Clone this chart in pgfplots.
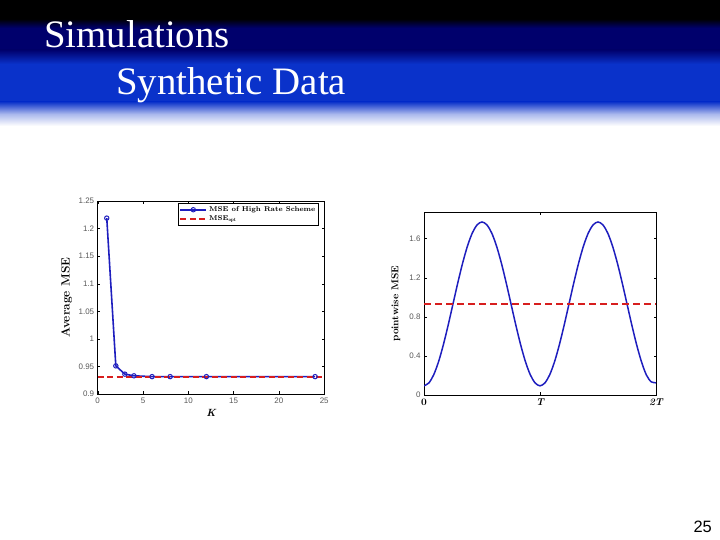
\documentclass[border=0pt]{standalone}
\usepackage{fontspec}
\usepackage{pgfplots}
\pgfplotsset{compat=1.18}
\newfontfamily\titlefont{Liberation Serif}
\newfontfamily\tickfont{Liberation Sans}

\definecolor{hdrnavy}{RGB}{0,0,108}
\definecolor{hdrblue}{RGB}{10,50,202}
\definecolor{mlblue}{RGB}{30,30,190}
\definecolor{mlred}{RGB}{215,30,30}

\begin{document}
\begin{tikzpicture}
  \useasboundingbox (0bp,0bp) rectangle (720bp,540bp);
  \fill[white] (0bp,0bp) rectangle (720bp,540bp);
  % slide header band
  \fill[black] (0bp,521bp) rectangle (720bp,540bp);
  \shade[top color=black, bottom color=hdrnavy] (0bp,512bp) rectangle (720bp,521.2bp);
  \fill[hdrnavy] (0bp,490bp) rectangle (720bp,512.2bp);
  \shade[top color=hdrnavy, bottom color=hdrblue] (0bp,476bp) rectangle (720bp,490.2bp);
  \fill[hdrblue] (0bp,438bp) rectangle (720bp,476.2bp);
  \shade[top color=hdrblue, bottom color=white, middle color=hdrblue!35]
    (0bp,414bp) rectangle (720bp,438.2bp);
  \node[anchor=base west, inner sep=0pt, text=white]
    at (44bp,492.5bp) {\titlefont\fontsize{39}{44}\selectfont Simulations};
  \node[anchor=base west, inner sep=0pt, text=white]
    at (116bp,445.5bp) {\titlefont\fontsize{39}{44}\selectfont Synthetic Data};
  \node[anchor=base east, inner sep=0pt]
    at (712bp,8bp) {\tickfont\fontsize{16.5}{18}\selectfont 25};

  % left: average MSE against K
  \begin{axis}
    [ at={(97.7bp,146bp)}, anchor=south west
    , scale only axis
    , width=226.5bp, height=193bp
    , xmin=0, xmax=25, ymin=0.9, ymax=1.25
    , xtick={0,5,10,15,20,25}
    , ytick={0.9,0.95,1,1.05,1.1,1.15,1.2,1.25}
    , tick style={black, thin}
    , tick align=inside
    , major tick length=2.5bp
    , axis line style={black, line width=0.6pt}
    , tick label style={font=\tickfont\fontsize{8}{9}\selectfont, text=black!65}
    , /pgf/number format/assume math mode=true
    , ylabel={\bfseries Average MSE}
    , ylabel style={font=\fontsize{12}{13}\selectfont, anchor=center,
        at={(axis description cs:-0.137,0.5)}}
    , xlabel={\bfseries\itshape K}
    , xlabel style={font=\fontsize{10.5}{11}\selectfont, at={(axis description cs:0.5,-0.06)}}
    , legend cell align=left
    , legend style={at={(0.975,0.988)}, anchor=north east,
        font=\fontsize{7}{7.5}\selectfont\bfseries, draw=black, line width=0.5pt,
        inner sep=1pt, row sep=-1.5pt}
    , legend image code/.code={%
        \draw[mark repeat=2, mark phase=2, #1]
          plot coordinates {(0bp,0bp) (13bp,0bp) (26bp,0bp)};}
    ]
    \addplot[mlblue, line width=1.6pt, mark=o,
      mark options={solid, draw=mlblue, fill=mlblue!25, line width=1pt, scale=1.1}]
      coordinates {(1,1.219) (2,0.951) (3,0.936) (4,0.933) (6,0.9315)
                   (8,0.9315) (12,0.9315) (24,0.9315)};
    \addplot[mlred, line width=1.9pt, dash pattern=on 6bp off 3.5bp]
      coordinates {(0,0.931) (25,0.931)};
    \legend{MSE of High Rate Scheme, MSE$_{\mathbf{opt}}$}
  \end{axis}

  % right: pointwise MSE over two periods (x in 1/24 of T)
  \begin{axis}
    [ at={(424bp,145bp)}, anchor=south west
    , scale only axis
    , width=232bp, height=182.3bp
    , xmin=0, xmax=48, ymin=0, ymax=1.865
    , xtick={0,24,48}
    , xticklabels={\bfseries 0, \bfseries\itshape T, \bfseries\itshape 2T}
    , x tick label style={font=\fontsize{10}{11}\selectfont, text=black}
    , ytick={0,0.4,0.8,1.2,1.6}
    , y tick label style={font=\tickfont\fontsize{8}{9}\selectfont, text=black!65}
    , /pgf/number format/assume math mode=true
    , tick style={black, thin}
    , tick align=inside
    , major tick length=2.5bp
    , axis line style={black, line width=0.6pt}
    , ylabel={\bfseries pointwise MSE}
    , ylabel style={font=\fontsize{10}{11}\selectfont, anchor=center,
        at={(axis description cs:-0.121,0.5)}}
    ]
    \addplot[mlblue, line width=1.5pt, smooth] coordinates {
      (0,0.094) (1,0.123) (2,0.206) (3,0.339) (4,0.513) (5,0.715)
      (6,0.932) (7,1.149) (8,1.351) (9,1.525) (10,1.658) (11,1.741)
      (12,1.770) (13,1.741) (14,1.658) (15,1.525) (16,1.351) (17,1.149)
      (18,0.932) (19,0.715) (20,0.513) (21,0.339) (22,0.206) (23,0.123)
      (24,0.094) (25,0.123) (26,0.206) (27,0.339) (28,0.513) (29,0.715)
      (30,0.932) (31,1.149) (32,1.351) (33,1.525) (34,1.658) (35,1.741)
      (36,1.770) (37,1.741) (38,1.658) (39,1.525) (40,1.351) (41,1.149)
      (42,0.932) (43,0.715) (44,0.513) (45,0.339) (46,0.206) (47,0.135)
      (48,0.125)};
    \addplot[mlred, line width=1.9pt, dash pattern=on 7bp off 4bp]
      coordinates {(0,0.928) (48,0.928)};
  \end{axis}
\end{tikzpicture}
\end{document}
